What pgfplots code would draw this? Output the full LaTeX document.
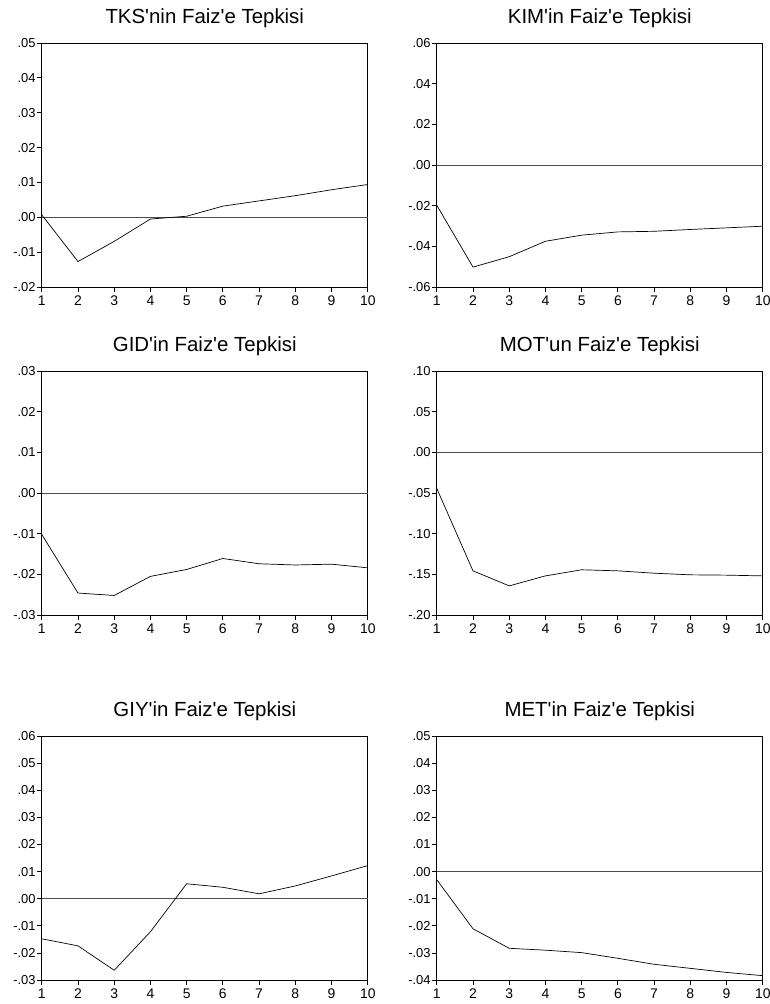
\documentclass[border=0pt]{standalone}
\usepackage{pgfplots}
\pgfplotsset{compat=1.18}
\usepackage{fontspec}
\setmainfont{Liberation Sans}
\newcommand{\q}{\textquotesingle}
\begin{document}
\pgfplotsset{
  irf/.style={
    scale only axis, width=326bp, height=244bp,
    anchor=north west,
    xmin=1, xmax=10, xtick={1,...,10},
    scaled y ticks=false,
    xtick pos=bottom, ytick pos=left,
    axis line style={line width=0.8pt},
    tick style={black, line width=0.8pt},
    tick align=outside, major tick length=5bp,
    x tick label style={font=\fontsize{14}{15}\selectfont, inner sep=1bp, yshift=-3bp},
    y tick label style={font=\fontsize{13}{14}\selectfont, inner sep=1bp},
    /pgf/number format/assume math mode=true,
    title style={font=\fontsize{20.5}{22}\selectfont, yshift=6bp},
    clip=false,
  },
  zero/.style={gray!60!black, line width=0.9pt, no marks},
  resp/.style={black, line width=0.7pt, no marks},
}
\begin{tikzpicture}
\useasboundingbox (0,0) rectangle (767bp,-1004bp);

% TKS
\begin{axis}[irf, at={(39bp,-43bp)}, title={TKS\q nin Faiz\q e Tepkisi},
  ymin=-0.02, ymax=0.05, ytick={-0.02,-0.01,0,0.01,0.02,0.03,0.04,0.05},
  yticklabels={-.02,-.01,.00,.01,.02,.03,.04,.05}]
\addplot[zero] coordinates {(1,0) (10,0)};
\addplot[resp] coordinates {(1,0.0007) (2,-0.0127) (3,-0.0069) (4,-0.0005) (5,0.0003) (6,0.0032) (7,0.0047) (8,0.0062) (9,0.0079) (10,0.0094)};
\end{axis}

% KIM
\begin{axis}[irf, at={(434bp,-43bp)}, title={KIM\q in Faiz\q e Tepkisi},
  ymin=-0.06, ymax=0.06, ytick={-0.06,-0.04,-0.02,0,0.02,0.04,0.06},
  yticklabels={-.06,-.04,-.02,.00,.02,.04,.06}]
\addplot[zero] coordinates {(1,0) (10,0)};
\addplot[resp] coordinates {(1,-0.0198) (2,-0.0502) (3,-0.0451) (4,-0.0375) (5,-0.0345) (6,-0.0329) (7,-0.0326) (8,-0.0317) (9,-0.0309) (10,-0.0301)};
\end{axis}

% GID
\begin{axis}[irf, at={(39bp,-371bp)}, title={GID\q in Faiz\q e Tepkisi},
  ymin=-0.03, ymax=0.03, ytick={-0.03,-0.02,-0.01,0,0.01,0.02,0.03},
  yticklabels={-.03,-.02,-.01,.00,.01,.02,.03}]
\addplot[zero] coordinates {(1,0) (10,0)};
\addplot[resp] coordinates {(1,-0.0102) (2,-0.0246) (3,-0.0252) (4,-0.0205) (5,-0.0188) (6,-0.0161) (7,-0.0174) (8,-0.0177) (9,-0.0175) (10,-0.0184)};
\end{axis}

% MOT
\begin{axis}[irf, at={(434bp,-371bp)}, title={MOT\q un Faiz\q e Tepkisi},
  ymin=-0.20, ymax=0.10, ytick={-0.20,-0.15,-0.10,-0.05,0,0.05,0.10},
  yticklabels={-.20,-.15,-.10,-.05,.00,.05,.10}]
\addplot[zero] coordinates {(1,0) (10,0)};
\addplot[resp] coordinates {(1,-0.0444) (2,-0.1457) (3,-0.1642) (4,-0.1519) (5,-0.1444) (6,-0.1457) (7,-0.1486) (8,-0.1506) (9,-0.1510) (10,-0.1519)};
\end{axis}

% GIY
\begin{axis}[irf, at={(39bp,-736bp)}, title={GIY\q in Faiz\q e Tepkisi},
  ymin=-0.03, ymax=0.06, ytick={-0.03,-0.02,-0.01,0,0.01,0.02,0.03,0.04,0.05,0.06},
  yticklabels={-.03,-.02,-.01,.00,.01,.02,.03,.04,.05,.06}]
\addplot[zero] coordinates {(1,0) (10,0)};
\addplot[resp] coordinates {(1,-0.0148) (2,-0.0174) (3,-0.0264) (4,-0.0122) (5,0.0055) (6,0.0042) (7,0.0018) (8,0.0047) (9,0.0084) (10,0.0122)};
\end{axis}

% MET
\begin{axis}[irf, at={(434bp,-736bp)}, title={MET\q in Faiz\q e Tepkisi},
  ymin=-0.04, ymax=0.05, ytick={-0.04,-0.03,-0.02,-0.01,0,0.01,0.02,0.03,0.04,0.05},
  yticklabels={-.04,-.03,-.02,-.01,.00,.01,.02,.03,.04,.05}]
\addplot[zero] coordinates {(1,0) (10,0)};
\addplot[resp] coordinates {(1,-0.0030) (2,-0.0211) (3,-0.0283) (4,-0.0290) (5,-0.0299) (6,-0.0320) (7,-0.0342) (8,-0.0357) (9,-0.0372) (10,-0.0384)};
\end{axis}
\end{tikzpicture}
\end{document}
